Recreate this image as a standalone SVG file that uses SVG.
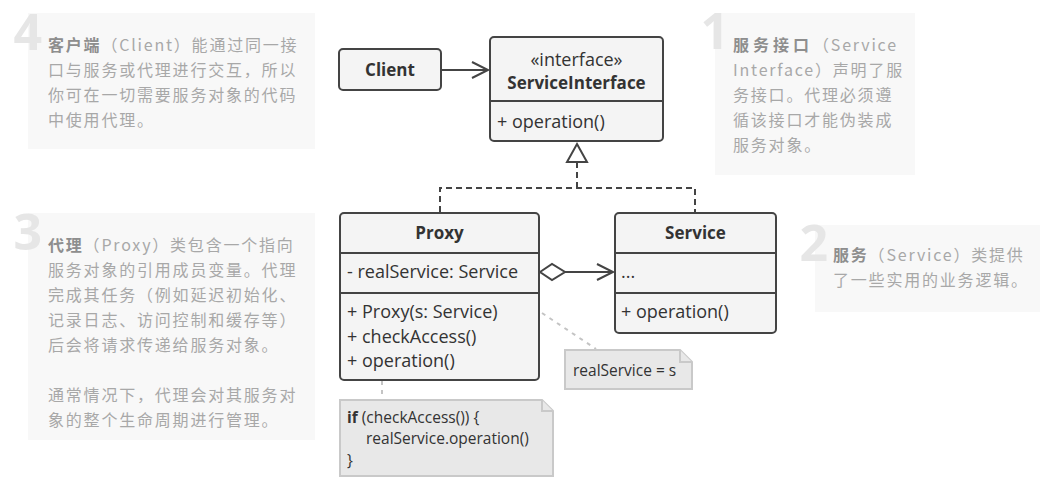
<svg xmlns="http://www.w3.org/2000/svg" width="1057" height="477" viewBox="0 0 1057 477">
<style>
.bg{fill:#f8f8f8}
.num{font-family:"Open Sans","DejaVu Sans",sans-serif;font-weight:bold;font-size:50px;fill:#e6e6e6}
.cn{font-family:"Noto Sans CJK SC","Noto Sans",sans-serif;font-size:16px;fill:#a8a8a8;letter-spacing:1.8px}
.cn .b{font-weight:bold;fill:#8e8e8e}
.box{fill:#f4f4f4;stroke:#444;stroke-width:2}
.div{stroke:#444;stroke-width:2}
.t{font-family:"Open Sans","Liberation Sans",sans-serif;font-size:18px;fill:#333}
.h{font-weight:bold;text-anchor:middle;font-size:17px}
.c{text-anchor:middle}
.line{fill:none;stroke:#444;stroke-width:2}
.dash{fill:none;stroke:#444;stroke-width:2;stroke-dasharray:6 4}
.note{fill:#e8e8e8;stroke:#c9c9c9;stroke-width:2}
.nl{fill:none;stroke:#c4c4c4;stroke-width:2;stroke-dasharray:4 5}
.nt{font-family:"Open Sans","Liberation Sans",sans-serif;font-size:15.5px;fill:#333}
</style>

<g id="desc4">
<rect class="bg" x="28" y="13" width="287" height="136"/>
<text class="num" x="42" y="50" text-anchor="end">4</text>
<text class="cn" x="48" y="51"><tspan class="b">客户端</tspan>（Client）能通过同一接</text>
<text class="cn" x="48" y="76">口与服务或代理进行交互，所以</text>
<text class="cn" x="48" y="101">你可在一切需要服务对象的代码</text>
<text class="cn" x="48" y="126">中使用代理。</text>
</g>

<g id="desc1">
<rect class="bg" x="715" y="13" width="200" height="162"/>
<text class="num" x="729" y="49" text-anchor="end">1</text>
<text class="cn" x="733" y="51"><tspan class="b" letter-spacing="4">服务接口</tspan>（Service</text>
<text class="cn" x="733" y="76" letter-spacing="1.4">Interface）声明了服</text>
<text class="cn" x="733" y="101">务接口。代理必须遵</text>
<text class="cn" x="733" y="126">循该接口才能伪装成</text>
<text class="cn" x="733" y="151">服务对象。</text>
</g>

<g id="desc3">
<rect class="bg" x="28" y="213" width="287" height="227"/>
<text class="num" x="42" y="250" text-anchor="end">3</text>
<text class="cn" x="48" y="251"><tspan class="b">代理</tspan>（Proxy）类包含一个指向</text>
<text class="cn" x="48" y="276">服务对象的引用成员变量。代理</text>
<text class="cn" x="48" y="301">完成其任务（例如延迟初始化、</text>
<text class="cn" x="48" y="326">记录日志、访问控制和缓存等）</text>
<text class="cn" x="48" y="351">后会将请求传递给服务对象。</text>
<text class="cn" x="48" y="401">通常情况下，代理会对其服务对</text>
<text class="cn" x="48" y="426">象的整个生命周期进行管理。</text>
</g>

<g id="desc2">
<rect class="bg" x="815" y="225" width="225" height="87"/>
<text class="num" x="828" y="261" text-anchor="end">2</text>
<text class="cn" x="833" y="261"><tspan class="b">服务</tspan>（Service）类提供</text>
<text class="cn" x="833" y="286">了一些实用的业务逻辑。</text>
</g>

<g id="connectors">
<path class="line" d="M441 70 H487 M472 62 L488 70 L472 78"/>
<path class="dash" d="M577 162 V188 M440 212 V188 H695 V212"/>
<path class="line" d="M577 144 L587 162 H567 Z" fill="#fff"/>
<path class="line" d="M540 272 L552 264 L565 272 L552 280 Z" fill="#fff"/>
<path class="line" d="M565 272 H612 M597 264 L613 272 L597 280"/>
<path class="nl" d="M542 313 L596 349"/>
<path class="nl" d="M382 381 V399"/>
</g>

<g id="client">
<rect class="box" x="339" y="49" width="102" height="41" rx="4"/>
<text class="t h" x="390" y="76">Client</text>
</g>

<g id="serviceInterface">
<rect class="box" x="490" y="37" width="173" height="104" rx="4"/>
<line class="div" x1="490" y1="101" x2="663" y2="101"/>
<text class="t c" x="576.5" y="66">«interface»</text>
<text class="t h" x="576.5" y="89">ServiceInterface</text>
<text class="t" x="497" y="128">+ operation()</text>
</g>

<g id="proxy">
<rect class="box" x="340" y="213" width="199" height="167" rx="4"/>
<line class="div" x1="340" y1="253" x2="539" y2="253"/>
<line class="div" x1="340" y1="293" x2="539" y2="293"/>
<text class="t h" x="439.5" y="239">Proxy</text>
<text class="t" x="347" y="278">- realService: Service</text>
<text class="t" x="347" y="318">+ Proxy(s: Service)</text>
<text class="t" x="347" y="343">+ checkAccess()</text>
<text class="t" x="347" y="367">+ operation()</text>
</g>

<g id="service">
<rect class="box" x="615" y="213" width="161" height="120" rx="4"/>
<line class="div" x1="615" y1="253" x2="776" y2="253"/>
<line class="div" x1="615" y1="293" x2="776" y2="293"/>
<text class="t h" x="695.5" y="239">Service</text>
<text class="t" x="621" y="278">...</text>
<text class="t" x="621" y="318">+ operation()</text>
</g>

<g id="note1">
<path class="note" d="M565 350 H680 L692 362 V389 H565 Z"/>
<path class="note" d="M680 350 V362 H692"/>
<text class="nt" x="573" y="376">realService = s</text>
</g>

<g id="note2">
<path class="note" d="M340 400 H542 L553 411 V476 H340 Z"/>
<path class="note" d="M542 400 V411 H553"/>
<text class="nt" x="347" y="423"><tspan font-weight="bold">if</tspan> (checkAccess()) {</text>
<text class="nt" x="366" y="444">realService.operation()</text>
<text class="nt" x="347" y="466">}</text>
</g>
</svg>
